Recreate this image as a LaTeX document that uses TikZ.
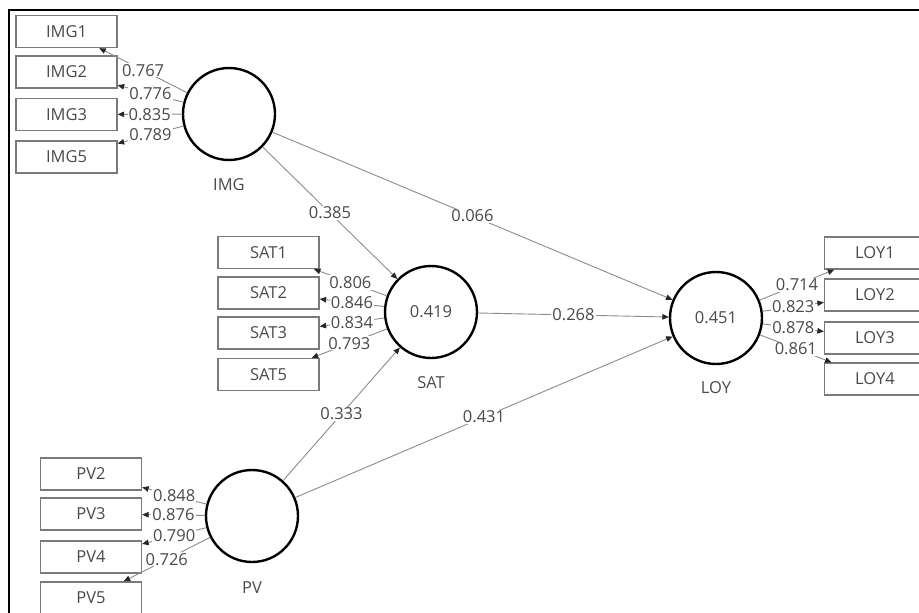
\documentclass[tikz,border=0pt]{standalone}
\usepackage{fontspec}
\setmainfont{Open Sans}
\usetikzlibrary{arrows.meta}
\definecolor{ln}{HTML}{8C8C8C}
\definecolor{tx}{HTML}{4A4A4A}
\definecolor{bx}{HTML}{7A7A7A}
\begin{document}
\begin{tikzpicture}[x=1pt,y=-1pt,
  font=\fontsize{16.5}{19}\selectfont,
  ind/.style={draw=bx, line width=1.3pt, minimum width=101pt, minimum height=32pt, inner sep=0pt, text=tx},
  lv/.style={circle, draw=black, line width=2.4pt, minimum size=92pt, inner sep=0pt, text=tx},
  lvname/.style={text=tx},
  lnk/.style={draw=ln, line width=0.9pt, -{Triangle[length=6.5pt,width=5.5pt,color=black!85]}},
  lbl/.style={fill=white, inner sep=1pt, text=tx, midway}]
\useasboundingbox (0,0) rectangle (919,613);
\clip (0,0) rectangle (919,613);
\fill[white] (0,0) rectangle (919,613);
\draw[line width=2pt] (9,630) -- (9,10) -- (930,10);

% latent variables
\node[lv] (IMG) at (229,114) {};
\node[lv] (SAT) at (431,312) {0.419};
\node[lv] (LOY) at (716,318) {0.451};
\node[lv] (PV)  at (252,516) {};
\node[lvname] (IMGn) at (229,185) {IMG};
\node[lvname] (SATn) at (431,383) {SAT};
\node[lvname] (LOYn) at (716,388) {LOY};
\node[lvname] (PVn)  at (252,588) {PV};

% indicators
\node[ind] (IMG1) at (66.5,31.5) {IMG1};
\node[ind] (IMG2) at (66.5,72) {IMG2};
\node[ind] (IMG3) at (66.5,114.5) {IMG3};
\node[ind] (IMG5) at (66.5,157) {IMG5};
\node[ind] (SAT1) at (268.5,252.5) {SAT1};
\node[ind] (SAT2) at (268.5,293) {SAT2};
\node[ind] (SAT3) at (268.5,333) {SAT3};
\node[ind] (SAT5) at (268.5,374.5) {SAT5};
\node[ind] (LOY1) at (875,253) {LOY1};
\node[ind] (LOY2) at (875,295) {LOY2};
\node[ind] (LOY3) at (875,338) {LOY3};
\node[ind] (LOY4) at (875,379) {LOY4};
\node[ind] (PV2) at (91,474) {PV2};
\node[ind] (PV3) at (91,514) {PV3};
\node[ind] (PV4) at (91,557) {PV4};
\node[ind] (PV5) at (91,598) {PV5};

% structural paths
\draw[lnk] (IMG) -- node[lbl] {0.385} (SAT);
\draw[lnk] (IMG) -- node[lbl] {0.066} (LOY);
\draw[lnk] (SAT) -- node[lbl] {0.268} (LOY);
\draw[lnk] (PV) -- node[lbl] {0.333} (SAT);
\draw[lnk] (PV) -- node[lbl] {0.431} (LOY);

% outer loadings
\draw[lnk] (IMG) -- node[lbl] {0.767} (IMG1);
\draw[lnk] (IMG) -- node[lbl] {0.776} (IMG2);
\draw[lnk] (IMG) -- node[lbl] {0.835} (IMG3);
\draw[lnk] (IMG) -- node[lbl] {0.789} (IMG5);
\draw[lnk] (SAT) -- node[lbl] {0.806} (SAT1);
\draw[lnk] (SAT) -- node[lbl] {0.846} (SAT2);
\draw[lnk] (SAT) -- node[lbl] {0.834} (SAT3);
\draw[lnk] (SAT) -- node[lbl] {0.793} (SAT5);
\draw[lnk] (LOY) -- node[lbl] {0.714} (LOY1);
\draw[lnk] (LOY) -- node[lbl] {0.823} (LOY2);
\draw[lnk] (LOY) -- node[lbl] {0.878} (LOY3);
\draw[lnk] (LOY) -- node[lbl] {0.861} (LOY4);
\draw[lnk] (PV) -- node[lbl] {0.848} (PV2);
\draw[lnk] (PV) -- node[lbl] {0.876} (PV3);
\draw[lnk] (PV) -- node[lbl] {0.790} (PV4);
\draw[lnk] (PV) -- node[lbl] {0.726} (PV5);
\end{tikzpicture}
\end{document}
